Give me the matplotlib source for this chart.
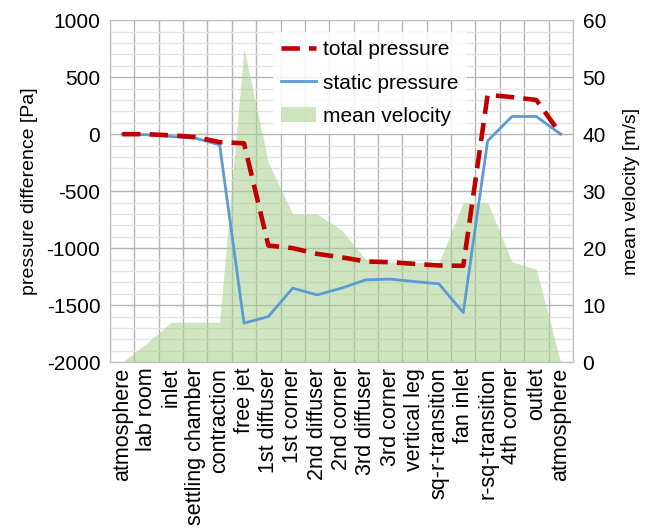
import numpy as np
import matplotlib.pyplot as plt
from matplotlib.patches import Patch
from matplotlib.lines import Line2D

plt.rcParams['font.family'] = ['Liberation Sans', 'DejaVu Sans']
plt.rcParams['axes.unicode_minus'] = False

# stations along the wind tunnel
stations = ['atmosphere', 'lab room', 'inlet', 'settling chamber', 'contraction',
            'free jet', '1st diffuser', '1st corner', '2nd diffuser', '2nd corner',
            '3rd diffuser', '3rd corner', 'vertical leg', 'sq-r-transition',
            'fan inlet', 'r-sq-transition', '4th corner', 'outlet', 'atmosphere']

total_pressure = [0, 0, -10, -25, -70, -80, -977, -1000, -1050, -1080, -1117,
                  -1123, -1138, -1152, -1155, 345, 325, 300, 0]
static_pressure = [0, -5, -20, -35, -94, -1658, -1600, -1351, -1410, -1351, -1278,
                   -1272, -1293, -1313, -1565, -59, 155, 155, 0]
mean_velocity = [0, 3.3, 7, 7, 7, 55, 35, 26, 26, 23.2, 18, 17.6, 17.5, 17.4,
                 28, 28, 17.6, 16.3, 0]

x = np.arange(len(stations))
red = '#c00000'
blue = '#5b9bd5'
green = '#a9d18e'

fig = plt.figure(figsize=(6.51, 5.31), dpi=100)
ax = fig.add_axes([0.169, 0.318, 0.711, 0.644])
axv = ax.twinx()
ax.set_zorder(axv.get_zorder() + 1)
ax.patch.set_visible(False)

# velocity area on the right axis, grid drawn underneath it
axv.xaxis.set_visible(True)
axv.fill_between(x, mean_velocity, 0, color=green, alpha=0.55, lw=0)
axv.set_ylim(0, 60)
axv.set_yticks(np.arange(0, 61, 10))
axv.set_yticks(np.arange(0, 61, 2), minor=True)
axv.set_axisbelow(True)
axv.grid(True, which='minor', axis='y', color='#e2e2e2', lw=1.0)
axv.grid(True, which='major', axis='y', color='#b4b4b4', lw=1.0)
axv.grid(True, which='minor', axis='x', color='#b4b4b4', lw=1.0)
axv.set_ylabel('mean velocity [m/s]', fontsize=14, labelpad=12)
axv.tick_params(axis='y', which='both', length=0, labelsize=15, pad=7)
axv.tick_params(axis='x', which='both', length=0, labelbottom=False)

# pressure lines on the left axis
ax.plot(x, static_pressure, color=blue, lw=2.0)
ax.plot(x, total_pressure, color=red, lw=3.3, dashes=(4, 2))
ax.set_xlim(-0.5, len(stations) - 0.5)
ax.set_xticks(x)
ax.set_xticks(np.arange(-0.5, len(stations), 1), minor=True)
ax.set_xticklabels(stations, rotation=90, fontsize=15.5)
ax.set_ylim(-2000, 1000)
ax.set_yticks(np.arange(-2000, 1001, 500))
ax.tick_params(axis='both', which='both', length=0)
ax.tick_params(axis='y', labelsize=15, pad=7)
ax.tick_params(axis='x', labelsize=15.5, pad=4)
ax.set_ylabel('pressure difference [Pa]', fontsize=14, labelpad=6)

for a in (ax, axv):
    for s in a.spines.values():
        s.set_color('#c0c0c0')

handles = [Line2D([], [], color=red, lw=3.3, dashes=(4, 2)),
           Line2D([], [], color=blue, lw=2.0),
           Patch(facecolor=green, alpha=0.55, lw=0)]
ax.legend(handles, ['total pressure', 'static pressure', 'mean velocity'],
          loc='upper left', bbox_to_anchor=(0.352, 0.965), borderaxespad=0,
          fontsize=15, frameon=True, fancybox=False, edgecolor='none',
          framealpha=0.85, handlelength=1.65, handletextpad=0.35,
          labelspacing=0.68, borderpad=0.4)

fig.savefig('out.png', dpi=100)
